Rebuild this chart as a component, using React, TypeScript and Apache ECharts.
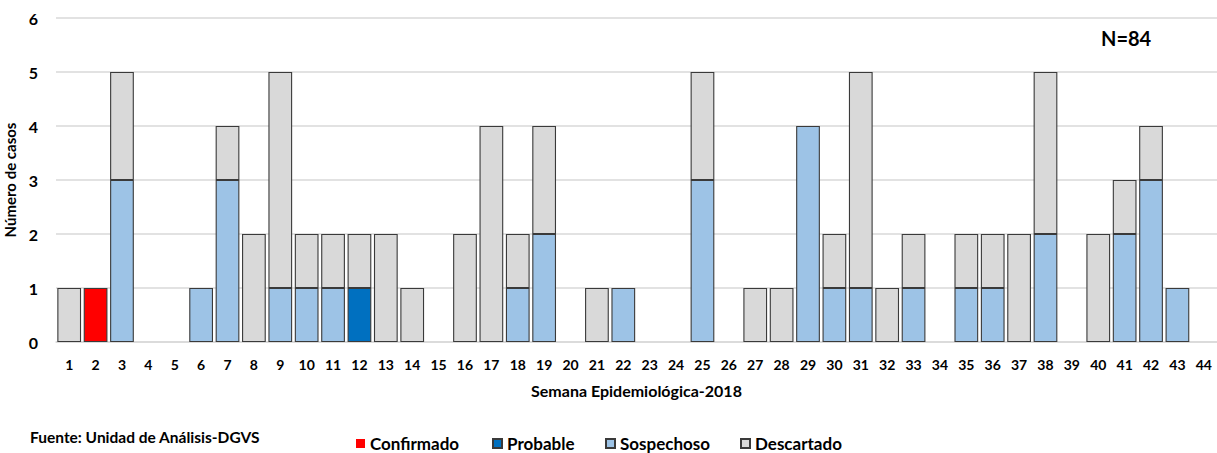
import React, { useEffect, useRef } from "react";
import * as echarts from "echarts";

const weeks = Array.from({ length: 44 }, (_, i) => String(i + 1));
const confirmado = [0,1,0,0,0,0,0,0,0,0,0,0,0,0,0,0,0,0,0,0,0,0,0,0,0,0,0,0,0,0,0,0,0,0,0,0,0,0,0,0,0,0,0,0];
const probable =   [0,0,0,0,0,0,0,0,0,0,0,1,0,0,0,0,0,0,0,0,0,0,0,0,0,0,0,0,0,0,0,0,0,0,0,0,0,0,0,0,0,0,0,0];
const sospechoso = [0,0,3,0,0,1,3,0,1,1,1,0,0,0,0,0,0,1,2,0,0,1,0,0,3,0,0,0,4,1,1,0,1,0,1,1,0,2,0,0,2,3,1,0];
const descartado = [1,0,2,0,0,0,1,2,4,1,1,1,2,1,0,2,4,1,2,0,1,0,0,0,2,0,1,1,0,1,4,1,1,0,1,1,2,3,0,2,1,1,0,0];
const yTicks = [0, 1, 2, 3, 4, 5, 6];

const FONT = "Lato, 'Liberation Sans', sans-serif";

export default function App() {
  const ref = useRef<HTMLDivElement>(null);
  useEffect(() => {
    if (!ref.current) return;
    const chart = echarts.init(ref.current, null, { renderer: "svg" });
    const mk = (name: string, data: number[], color: string) => ({
      name,
      type: "bar",
      stack: "total",
      barCategoryGap: "10%",
      data: data.map((v) => (v === 0 ? "-" : v)),
      itemStyle: { color, borderColor: "#3a3a3a", borderWidth: 1.1 },
    });
    const legendBase = {
      top: 434,
      padding: 0,
      itemWidth: 9,
      itemHeight: 9,
      itemGap: 4,
      icon: "rect",
      textStyle: { fontFamily: FONT, fontWeight: "bold", fontSize: 17, lineHeight: 19, color: "#000" },
    };
    chart.setOption({
      animation: false,
      backgroundColor: "#fff",
      grid: { left: 56, right: 0, top: 18, bottom: 111, outerBoundsMode: "none", containLabel: false },
      xAxis: {
        type: "category",
        data: weeks,
        axisTick: { show: false },
        axisLine: { show: true, lineStyle: { color: "#d9d9d9", width: 1.5 } },
        axisLabel: { interval: 0, fontFamily: FONT, fontWeight: "bold", fontSize: 14, color: "#000", margin: 15 },
        name: "Semana Epidemiológica-2018",
        nameLocation: "middle",
        nameGap: 40,
        nameTextStyle: { fontFamily: FONT, fontWeight: "bold", fontSize: 16, color: "#000" },
      },
      yAxis: {
        type: "value",
        min: yTicks[0],
        max: yTicks[yTicks.length - 1],
        interval: 1,
        axisLine: { show: false },
        axisTick: { show: false },
        splitLine: { lineStyle: { color: "#d9d9d9", width: 1.5 } },
        axisLabel: { fontFamily: FONT, fontWeight: "bold", fontSize: 16, color: "#000", margin: 18 },
        name: "Número de casos",
        nameLocation: "middle",
        nameGap: 36,
        nameTextStyle: { fontFamily: FONT, fontWeight: "bold", fontSize: 15, color: "#000" },
      },
      legend: [
        { ...legendBase, left: 356, data: [{ name: "Confirmado", itemStyle: { borderWidth: 0 } }] },
        { ...legendBase, left: 492, data: ["Probable"] },
        { ...legendBase, left: 605, data: ["Sospechoso"] },
        { ...legendBase, left: 740, data: ["Descartado"] },
      ],
      graphic: [
        {
          type: "text",
          left: 30,
          top: 429,
          style: { text: "Fuente: Unidad de Análisis-DGVS", fontFamily: FONT, fontWeight: "bold", fontSize: 15.5, fill: "#000" },
        },
        {
          type: "text",
          left: 1101,
          top: 28,
          style: { text: "N=84", fontFamily: FONT, fontWeight: "bold", fontSize: 20, fill: "#000" },
        },
      ],
      series: [
        mk("Confirmado", confirmado, "#ff0000"),
        mk("Probable", probable, "#0070c0"),
        mk("Sospechoso", sospechoso, "#9dc3e6"),
        mk("Descartado", descartado, "#d9d9d9"),
      ],
    });
    return () => chart.dispose();
  }, []);
  return (
    <div
      ref={ref}
      style={{ position: "fixed", left: 0, top: 0, width: 1217, height: 453 }}
    />
  );
}
